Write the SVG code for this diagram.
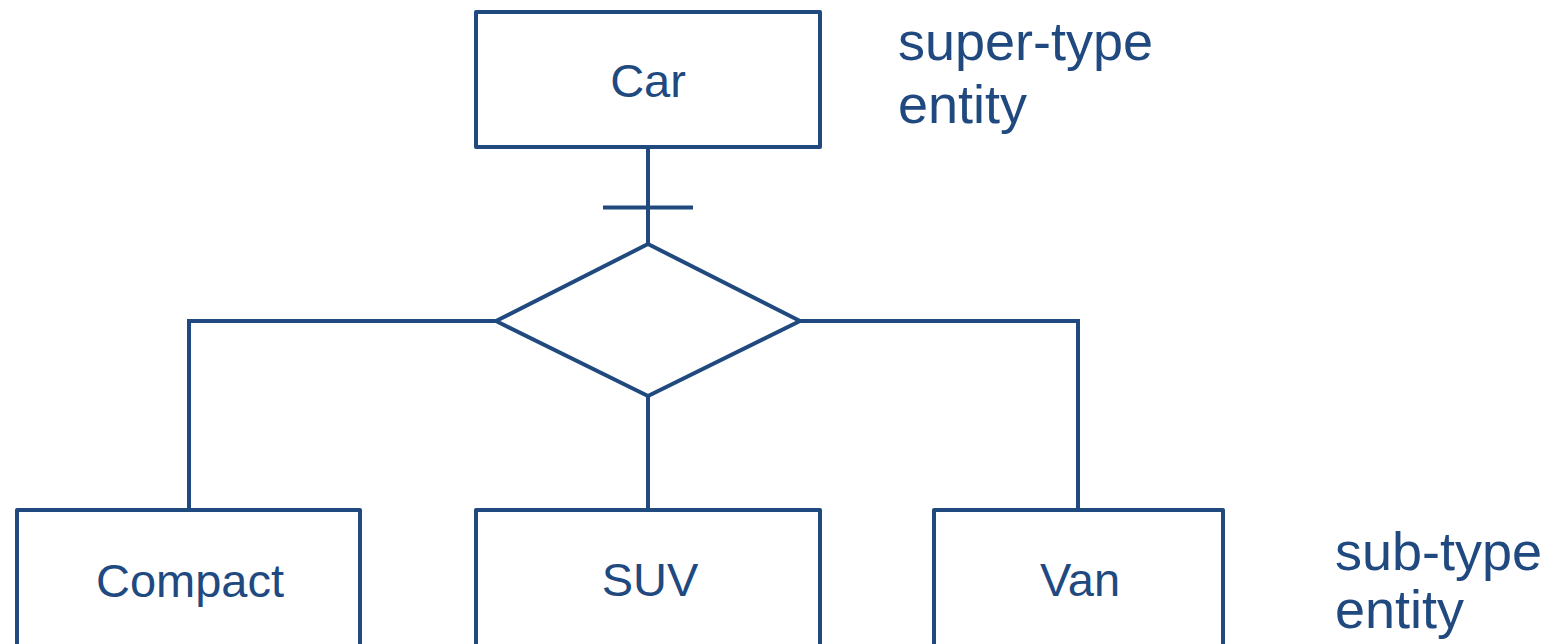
<svg xmlns="http://www.w3.org/2000/svg" width="1556" height="644" viewBox="0 0 1556 644">
<style>
.box{fill:#fff;stroke:#204A7F;stroke-width:4;stroke-linejoin:round}
.ln{fill:none;stroke:#204A7F;stroke-width:4}
.lbl{font-family:"Liberation Sans",Arial,sans-serif;font-size:47px;fill:#204A7F;text-anchor:middle}
.note{font-family:"Liberation Sans",Arial,sans-serif;font-size:54px;fill:#204A7F}
</style>
<rect width="1556" height="644" fill="#fff"/>
<g id="connectors">
<line class="ln" x1="648" y1="147" x2="648" y2="244"/>
<line class="ln" x1="603" y1="207.5" x2="693" y2="207.5"/>
<polyline class="ln" points="189,510 189,321 496,321"/>
<polyline class="ln" points="800,321 1078,321 1078,510"/>
<line class="ln" x1="648" y1="396" x2="648" y2="510"/>
</g>
<g id="isa">
<polygon class="box" points="648,244 800,321 648,396 496,321"/>
</g>
<g id="car">
<rect class="box" x="476" y="12" width="344" height="135"/>
<text class="lbl" x="648" y="97">Car</text>
</g>
<g id="compact">
<rect class="box" x="17" y="510" width="343" height="160"/>
<text class="lbl" x="190" y="597">Compact</text>
</g>
<g id="suv">
<rect class="box" x="476" y="510" width="344" height="160"/>
<text class="lbl" x="650" y="596">SUV</text>
</g>
<g id="van">
<rect class="box" x="934" y="510" width="289" height="160"/>
<text class="lbl" x="1080" y="596">Van</text>
</g>
<g id="notes">
<text class="note" x="898" y="60">super-type</text>
<text class="note" x="898" y="123">entity</text>
<text class="note" x="1335" y="570">sub-type</text>
<text class="note" x="1335" y="628">entity</text>
</g>
</svg>
